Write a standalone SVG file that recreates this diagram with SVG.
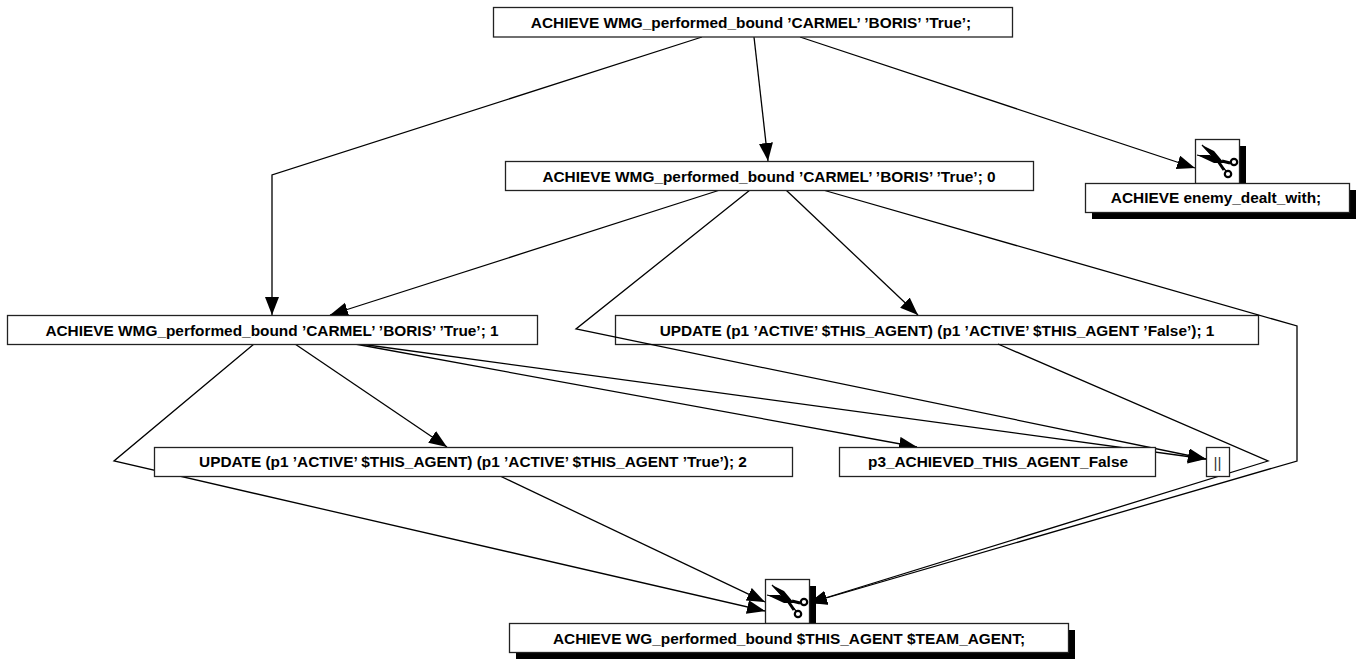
<svg xmlns="http://www.w3.org/2000/svg" width="1356" height="659" viewBox="0 0 1356 659">
<style>
.b{fill:#fff;stroke:#222;stroke-width:1.3}
.s{fill:#000}
.t{font:bold 15.4px "Liberation Sans",Arial,sans-serif;text-anchor:middle;fill:#000}
.r{font:15.4px "Liberation Sans",Arial,sans-serif;text-anchor:middle;fill:#333}
.e{fill:none;stroke:#000;stroke-width:1.3;marker-end:url(#a)}
</style>
<defs>
<marker id="a" markerUnits="userSpaceOnUse" markerWidth="20" markerHeight="16" refX="18" refY="7" orient="auto"><path d="M0 0L18 7L0 14z"/></marker>
<g id="sc">
<path d="M7 6L33 34M2 16L38 25" fill="none" stroke="#000" stroke-width="1.200"/>
<path d="M7 6L19 12L29 24L23 24zM2 16L15 16L31 24L19 24z" fill="#000"/>
<path d="M23 22L29 31M27 22L35 24" fill="none" stroke="#000" stroke-width="3"/>
<circle cx="39" cy="23" r="3.200" fill="#fff" stroke="#000" stroke-width="2.200"/>
<circle cx="33" cy="35" r="3.200" fill="#fff" stroke="#000" stroke-width="2.200"/>
</g>
</defs>
<g id="n4"><rect class="b" x="615.500" y="315.500" width="643" height="29"/><text class="t" x="937" y="336">UPDATE (p1 ’ACTIVE’ $THIS_AGENT) (p1 ’ACTIVE’ $THIS_AGENT ’False’); 1</text></g>
<g id="connectors">
<path class="e" d="M702 37L272 175V315"/>
<path class="e" d="M754 37L768 161"/>
<path class="e" d="M800 37L1195 168"/>
<path class="e" d="M720 190L330 315"/>
<path class="e" d="M750 190L576 329L1206 459"/>
<path class="e" d="M786 190L918 315"/>
<path class="e" d="M823 190L1297 326V461L809 603"/>
<path class="e" d="M998 344L1268 461L809 603"/>
<path class="e" d="M254 344L114 461L765 611"/>
<path class="e" d="M295 344L447 447"/>
<path class="e" d="M355 344L917 447"/>
<path class="e" d="M360 344L1206 459"/>
<path class="e" d="M500 476L765 602"/>
</g>
<g id="n0"><rect class="b" x="493.500" y="7.500" width="519" height="29.500"/><text class="t" x="751" y="28">ACHIEVE WMG_performed_bound ’CARMEL’ ’BORIS’ ’True’;</text></g>
<g id="n1"><rect class="b" x="505.500" y="161.500" width="528" height="29"/><text class="t" x="769" y="182">ACHIEVE WMG_performed_bound ’CARMEL’ ’BORIS’ ’True’; 0</text></g>
<g id="n2"><rect class="s" x="1202" y="146" width="44" height="44"/><rect class="b" x="1195.500" y="139.500" width="44" height="44"/><use href="#sc" x="1195" y="139"/><rect class="s" x="1092" y="190" width="264" height="29"/><rect class="b" x="1085.500" y="183.500" width="264" height="29"/><text class="t" x="1216" y="203">ACHIEVE enemy_dealt_with;</text></g>
<g id="n3"><rect class="b" x="7.500" y="315.500" width="530" height="29"/><text class="t" x="272" y="336">ACHIEVE WMG_performed_bound ’CARMEL’ ’BORIS’ ’True’; 1</text></g>
<g id="n5"><rect class="b" x="154.500" y="447.500" width="638" height="29"/><text class="t" x="473" y="467">UPDATE (p1 ’ACTIVE’ $THIS_AGENT) (p1 ’ACTIVE’ $THIS_AGENT ’True’); 2</text></g>
<g id="n6"><rect class="b" x="839.500" y="447.500" width="316" height="29"/><text class="t" x="998" y="467">p3_ACHIEVED_THIS_AGENT_False</text></g>
<g id="n7"><rect class="b" x="1206.500" y="447.500" width="23" height="29"/><text class="r" x="1217.500" y="468">||</text></g>
<g id="n8"><rect class="s" x="772" y="586" width="44" height="44"/><rect class="b" x="765.500" y="579.500" width="44" height="44"/><use href="#sc" x="765" y="579"/><rect class="s" x="516" y="630" width="559" height="29"/><rect class="b" x="509.500" y="623.500" width="559" height="29"/><text class="t" x="789" y="644">ACHIEVE WG_performed_bound $THIS_AGENT $TEAM_AGENT;</text></g>
</svg>
